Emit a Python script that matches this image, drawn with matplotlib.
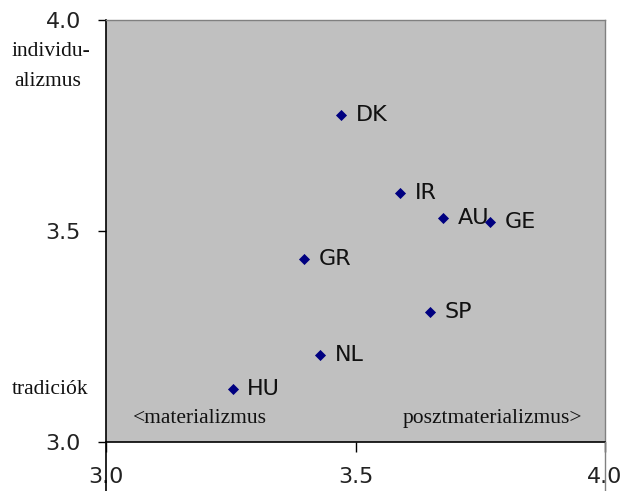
import matplotlib
matplotlib.use("Agg")
import matplotlib.pyplot as plt

countries = ["DK", "IR", "AU", "GE", "GR", "SP", "NL", "HU"]
x_vals = [3.471, 3.589, 3.675, 3.770, 3.397, 3.649, 3.429, 3.254]
y_vals = [3.775, 3.590, 3.531, 3.521, 3.434, 3.308, 3.206, 3.126]
tick_vals = [3.0, 3.5, 4.0]
tick_labels = ["3.0", "3.5", "4.0"]

fig = plt.figure(figsize=(6.23, 4.91), dpi=100)
ax = fig.add_axes([106/623, 49/491, 499/623, 422/491])
ax.set_facecolor("#C0C0C0")
ax.set_xlim(3.0, 4.0)
ax.set_ylim(3.0, 4.0)

ax.scatter(x_vals, y_vals, marker="D", s=32, color="#000080", zorder=3, linewidths=0)
for c, xv, yv in zip(countries, x_vals, y_vals):
    ax.annotate(c, (xv, yv), xytext=(10.5, 0), textcoords="offset points",
                va="center", ha="left", fontsize=16, family="DejaVu Sans",
                color="#111111")

ax.set_xticks(tick_vals)
ax.set_xticklabels(tick_labels, family="DejaVu Sans", fontsize=16, color="#222222")
ax.set_yticks(tick_vals)
ax.set_yticklabels(tick_labels, family="DejaVu Sans", fontsize=16, color="#222222")
ax.tick_params(axis="x", length=7, width=1, pad=11, color="black")
ax.tick_params(axis="y", length=6, width=1, pad=12, color="black")

for s in ["left", "bottom"]:
    ax.spines[s].set_color("black")
    ax.spines[s].set_linewidth(1.2)
for s in ["top", "right"]:
    ax.spines[s].set_color("#808080")
    ax.spines[s].set_linewidth(1.0)

# extended axis lines below plot (Excel artefact)
ax.plot([0, 0], [0, -0.12], transform=ax.transAxes, color="black", lw=1.2, clip_on=False, zorder=5)
ax.plot([1, 1], [0, -0.12], transform=ax.transAxes, color="#808080", lw=1.0, clip_on=False, zorder=5)

serif = dict(family="Liberation Serif", fontsize=15.5, color="#111111")
fig.text(12/623, 1 - 52/491, "individu-", ha="left", va="center", **serif)
fig.text(14/623, 1 - 81/491, "alizmus", ha="left", va="center", **serif)
fig.text(12/623, 1 - 389/491, "tradiciók", ha="left", va="center", **serif)
ax.text(0.054, 0.055, "<materializmus", transform=ax.transAxes, ha="left", va="center", **serif)
ax.text(0.955, 0.055, "posztmaterializmus>", transform=ax.transAxes, ha="right", va="center", **serif)

fig.savefig("out.png", dpi=100)
